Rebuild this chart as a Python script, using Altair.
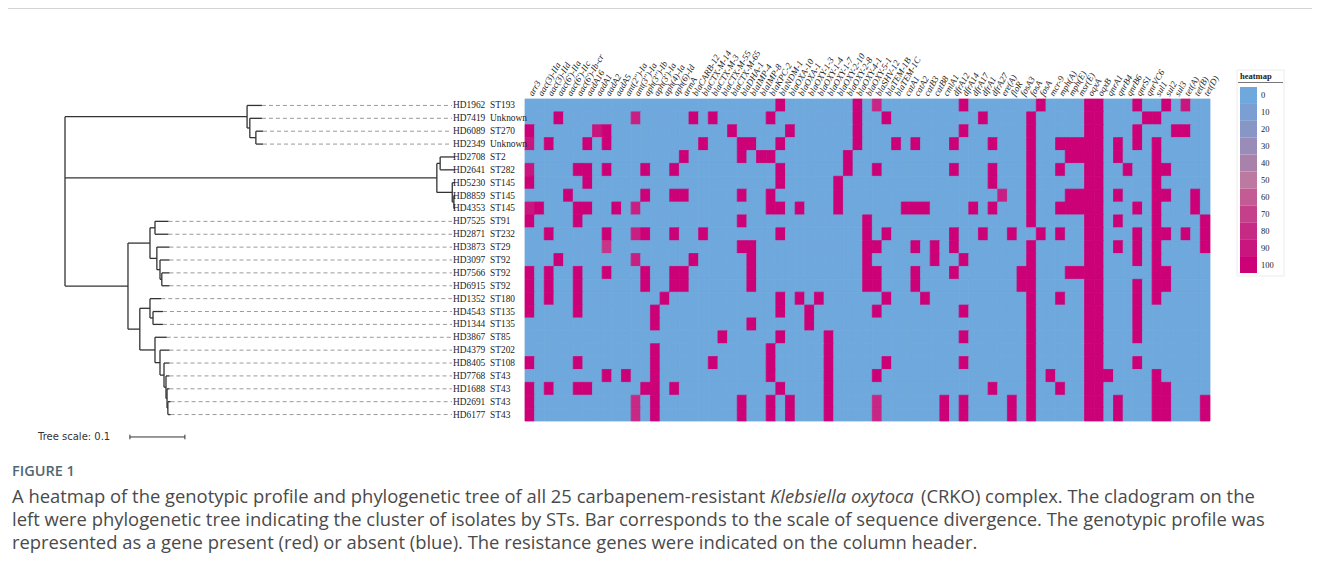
import altair as alt
import pandas as pd

# ---------------- data ----------------
genes = ["arr3", "aac(3)-IIa", "aac(3)-IId", "aac(6')-IIa", "aac(6')-IIc", "aac(6')-Ib-cr",
         "aadA16", "aadA1", "aadA2", "aadA5", "ant(2'')-Ia", "ant(3'')-Ia", "aph(3'')-Ib",
         "aph(3')-Ia", "aph(4)-Ia", "aph(6)-Id", "armA", "blaCARB-12", "blaCTX-M-14",
         "blaCTX-M-3", "blaCTX-M-55", "blaCTX-M-65", "blaDHA-1", "blaIMP-4", "blaIMP-8",
         "blaKPC-2", "blaNDM-1", "blaOXA-10", "blaOXA-1", "blaOXY-1-3", "blaOXY-1-4",
         "blaOXY-1-7", "blaOXY-2-10", "blaOXY-2-8", "blaOXY-4-1", "blaOXY-5-1", "blaSHV-12",
         "blaTEM-1B", "blaTEM-1C", "catA1", "catA2", "catB3", "catB8", "cmlA1", "dfrA12",
         "dfrA14", "dfrA17", "dfrA1", "dfrA27", "ere(A)", "floR", "fosA3", "fosA", "fosA",
         "mcr-9", "mph(A)", "mph(E)", "msr(E)", "oqxA", "oqxB", "qnrA1", "qnrB4", "qnrB6",
         "qnrS1", "qnrVC6", "sul1", "sul2", "sul3", "tet(A)", "tet(B)", "tet(D)"]

isolates = ["HD1962", "HD7419", "HD6089", "HD2349", "HD2708", "HD2641", "HD5230", "HD8859",
            "HD4353", "HD7525", "HD2871", "HD3873", "HD3097", "HD7566", "HD6915", "HD1352",
            "HD4543", "HD1344", "HD3867", "HD4379", "HD8405", "HD7768", "HD1688", "HD2691",
            "HD6177"]
sts = ["ST193", "Unknown", "ST270", "Unknown", "ST2", "ST282", "ST145", "ST145", "ST145",
       "ST91", "ST232", "ST29", "ST92", "ST92", "ST92", "ST180", "ST135", "ST135", "ST85",
       "ST202", "ST108", "ST43", "ST43", "ST43", "ST43"]

# genes present (value 100) per isolate, as gene column indices
present = [
    [26, 34, 36, 45, 53, 58, 59, 63, 66, 68],
    [3, 11, 17, 19, 25, 34, 37, 47, 52, 58, 59, 64, 65],
    [0, 7, 8, 21, 27, 34, 45, 52, 58, 59, 63, 67, 68],
    [0, 2, 6, 8, 18, 22, 23, 26, 34, 38, 40, 44, 48, 52, 55, 56, 57, 58, 59, 61, 63, 65],
    [16, 22, 24, 25, 33, 52, 56, 57, 58, 59, 61, 65],
    [0, 5, 6, 8, 12, 15, 26, 33, 36, 44, 48, 52, 55, 58, 59, 62, 65, 66],
    [0, 6, 26, 32, 48, 52, 58, 59, 65],
    [4, 12, 15, 16, 22, 25, 32, 49, 52, 56, 57, 58, 59, 61, 65, 66, 69],
    [0, 1, 5, 6, 9, 11, 25, 26, 28, 32, 39, 40, 41, 46, 48, 52, 55, 56, 57, 58, 59, 63, 65, 69],
    [0, 5, 22, 35, 52, 58, 59, 61, 65, 70],
    [2, 8, 11, 12, 15, 18, 26, 35, 37, 44, 47, 50, 53, 55, 58, 59, 63, 65, 66, 68, 70],
    [8, 22, 23, 35, 36, 40, 42, 44, 52, 58, 59, 61, 63, 65, 70],
    [3, 11, 17, 23, 35, 42, 45, 52, 58, 59, 63, 65],
    [0, 2, 5, 8, 12, 15, 16, 23, 35, 36, 40, 44, 51, 52, 56, 57, 58, 59, 65, 66],
    [0, 2, 5, 12, 15, 16, 23, 35, 36, 40, 51, 52, 58, 59, 63, 65, 66],
    [0, 2, 5, 14, 26, 28, 30, 37, 41, 52, 55, 58, 59, 63, 65],
    [0, 5, 13, 26, 29, 36, 45, 52, 58, 59, 63],
    [13, 23, 29, 52, 58, 59, 63],
    [20, 26, 31, 45, 52, 58, 59, 63],
    [13, 25, 31, 52, 58, 59],
    [0, 5, 13, 19, 25, 31, 37, 45, 52, 58, 59, 63],
    [8, 10, 13, 25, 31, 36, 52, 54, 58, 59, 60, 65],
    [0, 2, 5, 6, 12, 13, 15, 26, 31, 48, 52, 55, 58, 59, 65, 66],
    [0, 11, 13, 22, 25, 27, 31, 36, 43, 45, 50, 52, 58, 59, 61, 65, 66, 70],
    [0, 11, 13, 22, 25, 27, 31, 36, 43, 45, 50, 52, 58, 59, 61, 65, 66, 70],
]
# cells with a value below 100: (isolate row, gene column, value)
partial_cells = [(0, 36, 82), (0, 68, 90), (1, 11, 85), (2, 7, 90), (3, 0, 90), (5, 0, 90),
                 (7, 49, 85), (8, 0, 90), (8, 11, 85), (10, 11, 85), (11, 8, 75), (12, 11, 85),
                 (23, 11, 80), (24, 11, 80), (23, 36, 82), (24, 36, 82)]

legend_values = [0, 10, 20, 30, 40, 50, 60, 70, 80, 90, 100]
legend_colors = ["#6fa8dc", "#7b9fd3", "#8896c6", "#9a8cb8", "#a982ab", "#bc7aa0",
                 "#c35b94", "#c4408b", "#c72a85", "#c9157e", "#cc0077"]

# tree: ("node", depth, [children]) or ("leaf", row, tip depth); depth in substitutions/site
tree = ("node", 0.0, [
    ("node", 0.331, [
        ("leaf", 0, 0.358),
        ("node", 0.336, [
            ("leaf", 1, 0.358),
            ("node", 0.347, [("leaf", 2, 0.360), ("leaf", 3, 0.360)]),
        ]),
    ]),
    ("node", 0.676, [
        ("node", 0.682, [("leaf", 4, 0.709), ("leaf", 5, 0.709)]),
        ("node", 0.704, [
            ("leaf", 6, 0.709),
            ("node", 0.707, [("leaf", 7, 0.709), ("leaf", 8, 0.709)]),
        ]),
    ]),
    ("node", 0.1145, [
        ("node", 0.1545, [
            ("node", 0.1636, [("leaf", 9, 0.188), ("leaf", 10, 0.188)]),
            ("node", 0.167, [
                ("leaf", 11, 0.19),
                ("node", 0.1727, [
                    ("leaf", 12, 0.19),
                    ("node", 0.176, [("leaf", 13, 0.19), ("leaf", 14, 0.19)]),
                ]),
            ]),
        ]),
        ("node", 0.136, [
            ("node", 0.1545, [
                ("leaf", 15, 0.175),
                ("node", 0.16, [("leaf", 16, 0.178), ("leaf", 17, 0.178)]),
            ]),
            ("node", 0.1636, [
                ("leaf", 18, 0.185),
                ("node", 0.1727, [
                    ("leaf", 19, 0.19),
                    ("node", 0.18, [
                        ("leaf", 20, 0.19),
                        ("node", 0.1836, [
                            ("leaf", 21, 0.19),
                            ("node", 0.1855, [
                                ("leaf", 22, 0.19),
                                ("node", 0.187, [("leaf", 23, 0.192), ("leaf", 24, 0.192)]),
                            ]),
                        ]),
                    ]),
                ]),
            ]),
        ]),
    ]),
])
tree_scale_value = 0.1
label_depth = 0.7036

# ---------------- build tables ----------------
cells = []
for r in range(len(isolates)):
    for c in range(len(genes)):
        cells.append({"row": r, "col": c, "v": 100 if c in present[r] else 0})
cell_df = pd.DataFrame(cells)
for r, c, v in partial_cells:
    cell_df.loc[(cell_df.row == r) & (cell_df.col == c), "v"] = v

gene_df = pd.DataFrame({"col": list(range(len(genes))), "gene": genes})
iso_df = pd.DataFrame({"row": list(range(len(isolates))), "iso": isolates, "st": sts})

solid, dashed = [], []


def layout(n):
    if n[0] == "leaf":
        _, row, tip = n
        return float(row), tip
    _, depth, kids = n
    ys = []
    for k in kids:
        ky, kd = layout(k)
        solid.append({"x": depth, "x2": kd, "y": ky, "y2": ky})
        ys.append(ky)
    solid.append({"x": depth, "x2": depth, "y": min(ys), "y2": max(ys)})
    return (min(ys) + max(ys)) / 2, depth


def leaves(n):
    if n[0] == "leaf":
        return [n]
    out = []
    for k in n[2]:
        out += leaves(k)
    return out


layout(tree)
for _, row, tip in leaves(tree):
    if tip < label_depth:
        dashed.append({"x": tip, "x2": label_depth, "y": float(row), "y2": float(row)})
solid_df = pd.DataFrame(solid)
dashed_df = pd.DataFrame(dashed)

bar_start = 0.118
bar_row = 25.74
bar_df = pd.DataFrame([
    {"x": bar_start, "x2": bar_start + tree_scale_value, "y": bar_row, "y2": bar_row},
    {"x": bar_start, "x2": bar_start, "y": bar_row - 0.18, "y2": bar_row + 0.18},
    {"x": bar_start + tree_scale_value, "x2": bar_start + tree_scale_value,
     "y": bar_row - 0.18, "y2": bar_row + 0.18},
])
legend_df = pd.DataFrame({"v": legend_values})

# ---------------- scales ----------------
n_rows = len(isolates)
heat_x = alt.Scale(domain=list(range(len(genes))), range=[517, 1202], paddingInner=0, paddingOuter=0)
heat_y = alt.Scale(domain=list(range(n_rows)), range=[91, 413], paddingInner=0, paddingOuter=0)
tree_x = alt.Scale(domain=[0, 0.709], range=[57, 447], zero=False, nice=False)
tree_y = alt.Scale(domain=[-0.5, n_rows - 0.5], range=[91, 413], zero=False, nice=False)
color_scale = alt.Scale(domain=legend_values, range=legend_colors, interpolate="rgb")
leg_y = alt.Scale(domain=legend_values, range=[79, 265], paddingInner=0, paddingOuter=0)

SERIF = "Liberation Serif"
SANS = "Open Sans"

heat = alt.Chart(cell_df).mark_rect(strokeWidth=0.8).encode(
    x=alt.X("col:O", scale=heat_x, axis=None),
    y=alt.Y("row:O", scale=heat_y, axis=None),
    color=alt.Color("v:Q", scale=color_scale, legend=None),
    stroke=alt.Stroke("v:Q", scale=color_scale, legend=None),
)

gene_labels = alt.Chart(gene_df).mark_text(
    align="left", baseline="middle", angle=300, font=SERIF, fontStyle="italic",
    fontSize=9, color="#222", dx=1
).encode(
    x=alt.X("col:O", scale=heat_x, axis=None),
    y=alt.value(88),
    text="gene:N",
)

tree_lines = alt.Chart(solid_df).mark_rule(color="#333", strokeWidth=1.3).encode(
    x=alt.X("x:Q", scale=tree_x, axis=None), x2="x2:Q",
    y=alt.Y("y:Q", scale=tree_y, axis=None), y2="y2:Q",
)
tree_dash = alt.Chart(dashed_df).mark_rule(color="#9a9a9a", strokeWidth=1, strokeDash=[4, 3]).encode(
    x=alt.X("x:Q", scale=tree_x, axis=None), x2="x2:Q",
    y=alt.Y("y:Q", scale=tree_y, axis=None), y2="y2:Q",
)
iso_text = alt.Chart(iso_df).mark_text(
    align="left", baseline="middle", font=SERIF, fontSize=9.4, color="#222"
).encode(x=alt.value(445), y=alt.Y("row:Q", scale=tree_y, axis=None), text="iso:N")
st_text = alt.Chart(iso_df).mark_text(
    align="left", baseline="middle", font=SERIF, fontSize=9.4, color="#222"
).encode(x=alt.value(482), y=alt.Y("row:Q", scale=tree_y, axis=None), text="st:N")

scale_bar = alt.Chart(bar_df).mark_rule(color="#333", strokeWidth=1).encode(
    x=alt.X("x:Q", scale=tree_x, axis=None), x2="x2:Q",
    y=alt.Y("y:Q", scale=tree_y, axis=None), y2="y2:Q",
)

leg_box = alt.Chart(pd.DataFrame({"a": [0]})).mark_rect(
    fill="white", stroke="#ececec", strokeWidth=1
).encode(x=alt.value(1229), x2=alt.value(1276), y=alt.value(62), y2=alt.value(268))
leg_rect = alt.Chart(legend_df).mark_rect().encode(
    x=alt.value(1232), x2=alt.value(1249),
    y=alt.Y("v:O", scale=leg_y, axis=None),
    color=alt.Color("v:Q", scale=color_scale, legend=None),
)
leg_text = alt.Chart(legend_df).mark_text(
    align="left", baseline="middle", font=SERIF, fontSize=8.5, color="#222"
).encode(x=alt.value(1253), y=alt.Y("v:O", scale=leg_y, axis=None), text="v:Q")
leg_rule = alt.Chart(pd.DataFrame({"a": [0]})).mark_rule(color="#777", strokeWidth=1).encode(
    x=alt.value(1230), x2=alt.value(1275), y=alt.value(74.5)
)


def label(txt, x, y, **kw):
    return alt.Chart(pd.DataFrame({"t": [txt]})).mark_text(
        align="left", baseline="middle", **kw
    ).encode(x=alt.value(x), y=alt.value(y), text="t:N")


leg_title = label("heatmap", 1232, 68, font=SERIF, fontSize=8.5, fontWeight="bold", color="#222")
tree_scale_text = label("Tree scale: 0.1", 30, 429, font="DejaVu Sans", fontSize=10, color="#333")

top_rule = alt.Chart(pd.DataFrame({"a": [0]})).mark_rule(color="#d4d4d4", strokeWidth=1).encode(
    x=alt.value(0), x2=alt.value(1304), y=alt.value(0.5)
)

CAP = "#4a4a4a"
CAPSIZE = 18.4
fig_label = label("FIGURE 1", 4, 464, font=SANS, fontSize=14.5, fontWeight=600, color="#4f6773")
cap1a = label("A heatmap of the genotypic profile and phylogenetic tree of all 25 carbapenem-resistant",
              4, 489, font=SANS, fontSize=CAPSIZE, color=CAP)
cap1b = label("Klebsiella oxytoca", 762, 489, font=SANS, fontSize=CAPSIZE, fontStyle="italic", color=CAP)
cap1c = label("(CRKO) complex. The cladogram on the", 913, 489, font=SANS, fontSize=CAPSIZE, color=CAP)
cap2 = label("left were phylogenetic tree indicating the cluster of isolates by STs. Bar corresponds to "
             "the scale of sequence divergence. The genotypic profile was", 4, 512,
             font=SANS, fontSize=CAPSIZE, color=CAP)
cap3 = label("represented as a gene present (red) or absent (blue). The resistance genes were indicated "
             "on the column header.", 4, 535, font=SANS, fontSize=CAPSIZE, color=CAP)

chart = alt.layer(
    top_rule, heat, gene_labels, tree_dash, tree_lines, iso_text, st_text, scale_bar,
    tree_scale_text, leg_box, leg_rect, leg_text, leg_rule, leg_title,
    fig_label, cap1a, cap1b, cap1c, cap2, cap3,
).resolve_scale(
    x="independent", y="independent", color="independent", stroke="independent"
).properties(
    width=1304, height=560, padding=0, autosize=alt.AutoSizeParams(type="none")
).configure_view(stroke=None)

chart.save("out.html", embed_options={"renderer": "svg", "actions": False})
